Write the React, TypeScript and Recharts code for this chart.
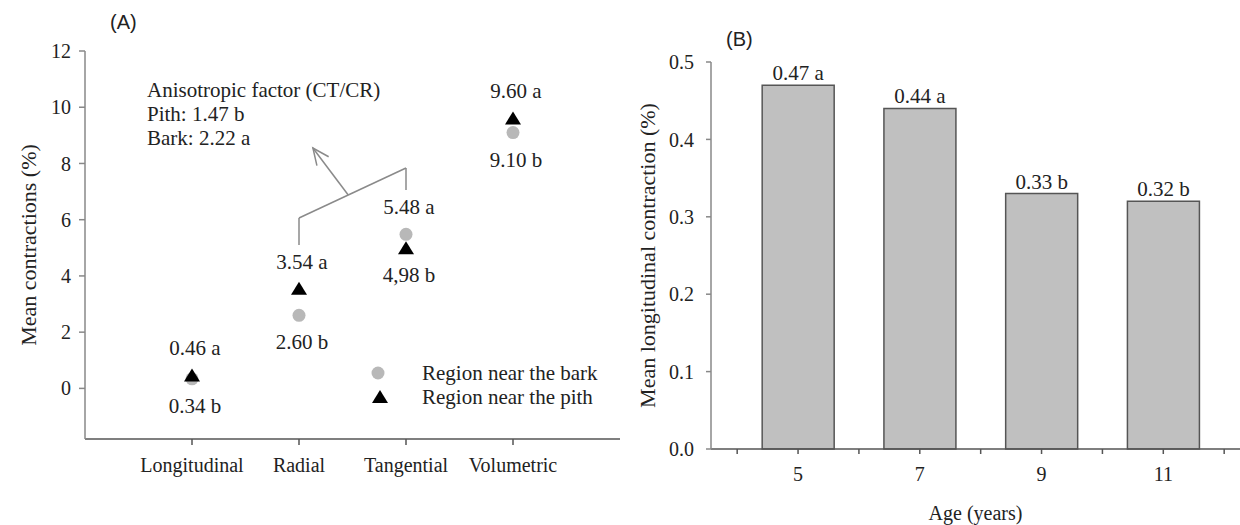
import React from "react";
import { Bar, BarChart, Label, LabelList, ReferenceLine, Scatter, ScatterChart, XAxis, YAxis } from "recharts";

const serif = "'Liberation Serif', 'Times New Roman', serif";
const sans = "'Liberation Sans', Arial, sans-serif";

// (A) mean contractions by direction
const directions = ["Longitudinal", "Radial", "Tangential", "Volumetric"];
const barkValues = [0.34, 2.6, 5.48, 9.1];
const pithValues = [0.46, 3.54, 4.98, 9.6];
const barkLabels = ["0.34 b", "2.60 b", "5.48 a", "9.10 b"];
const pithLabels = ["0.46 a", "3.54 a", "4,98 b", "9.60 a"];
const contractionTicks = [0, 2, 4, 6, 8, 10, 12];
const anisotropyText = ["Anisotropic factor (CT/CR)", "Pith: 1.47 b", "Bark: 2.22 a"];
const legendNames = ["Region near the bark", "Region near the pith"];

// (B) longitudinal contraction by age
const ages = [5, 7, 9, 11];
const longitudinal = [0.47, 0.44, 0.33, 0.32];
const ageLetters = ["a", "a", "b", "b"];
const longitudinalTicks = [0, 0.1, 0.2, 0.3, 0.4, 0.5];
const ageTicks = [4, 5, 6, 7, 8, 9, 10, 11, 12];

const barkData = directions.map((d, i) => ({
  x: i + 1,
  y: barkValues[i],
  label: barkLabels[i],
  above: barkValues[i] > pithValues[i]
}));
const pithData = directions.map((d, i) => ({
  x: i + 1,
  y: pithValues[i],
  label: pithLabels[i],
  above: pithValues[i] >= barkValues[i]
}));
const ageData = ages.map((a, i) => ({
  age: a,
  value: longitudinal[i],
  label: `${longitudinal[i].toFixed(2)} ${ageLetters[i]}`
}));

const textStyle = { fill: "#222", fontSize: 20, fontFamily: serif };

function pointLabel(cx: number, cy: number, payload: any) {
  return (
    <text
      x={cx + 3}
      y={cy + (payload.above ? -27 : 27)}
      textAnchor="middle"
      dominantBaseline="central"
      fill="#222"
      fontSize={21}
      fontFamily={serif}
    >
      {payload.label}
    </text>
  );
}

const BarkDot = (props: any) => {
  const { cx, cy, payload } = props;
  return (
    <g>
      <circle cx={cx} cy={cy} r={6.5} fill="#b8b8b8" />
      {pointLabel(cx, cy, payload)}
    </g>
  );
};

const PithTriangle = (props: any) => {
  const { cx, cy, payload } = props;
  return (
    <g>
      <path d={`M${cx},${cy - 7} L${cx + 8},${cy + 6} L${cx - 8},${cy + 6} Z`} fill="#000" />
      {pointLabel(cx, cy, payload)}
    </g>
  );
};

const ArrowLine = (props: any) => {
  const { x1, y1, x2, y2 } = props;
  const a = Math.atan2(y1 - y2, x1 - x2);
  const len = 18;
  const spread = 0.42;
  return (
    <g stroke="#8a8a8a" strokeWidth={1.5} fill="none">
      <line x1={x1} y1={y1} x2={x2} y2={y2} />
      <path
        d={`M${x2 + len * Math.cos(a - spread)},${y2 + len * Math.sin(a - spread)} L${x2},${y2} L${x2 + len * Math.cos(a + spread)},${y2 + len * Math.sin(a + spread)}`}
      />
    </g>
  );
};

const yTitle = (text: string, cx: number) => (props: any) => {
  const vb = props.viewBox;
  const cy = vb.y + vb.height / 2;
  return (
    <text
      x={cx}
      y={cy}
      transform={`rotate(-90, ${cx}, ${cy})`}
      textAnchor="middle"
      dominantBaseline="central"
      fill="#222"
      fontSize={22}
      fontFamily={serif}
    >
      {text}
    </text>
  );
};

function ContractionsChart() {
  return (
    <ScatterChart width={640} height={525} margin={{ top: 51, right: 20, bottom: 0, left: 0 }}>
      <XAxis
        type="number"
        dataKey="x"
        domain={[0, 5]}
        ticks={[1, 2, 3, 4]}
        tickFormatter={(v: number) => directions[v - 1]}
        height={86}
        tick={textStyle}
        tickSize={6}
        tickMargin={13}
        stroke="#555"
        strokeWidth={1.5}
      />
      <YAxis
        type="number"
        dataKey="y"
        domain={[-1.8, 12]}
        ticks={contractionTicks}
        width={85}
        tick={textStyle}
        tickSize={6}
        tickMargin={8}
        stroke="#888"
        strokeWidth={1.5}
        label={yTitle("Mean contractions (%)", 28)}
      />
      <ReferenceLine segment={[{ x: 2, y: 5.1 }, { x: 2, y: 6.06 }]} stroke="#8a8a8a" strokeWidth={1.5} />
      <ReferenceLine segment={[{ x: 2, y: 6.06 }, { x: 3, y: 7.84 }]} stroke="#8a8a8a" strokeWidth={1.5} />
      <ReferenceLine segment={[{ x: 3, y: 7.84 }, { x: 3, y: 7.06 }]} stroke="#8a8a8a" strokeWidth={1.5} />
      <ReferenceLine segment={[{ x: 2.46, y: 6.88 }, { x: 2.13, y: 8.55 }]} shape={ArrowLine} />
      <Scatter data={barkData} shape={BarkDot} isAnimationActive={false} />
      <Scatter data={pithData} shape={PithTriangle} isAnimationActive={false} />
    </ScatterChart>
  );
}

function AgeChart() {
  return (
    <BarChart width={620} height={525} data={ageData} margin={{ top: 62, right: 0, bottom: 0, left: 0 }}>
      <XAxis
        type="number"
        dataKey="age"
        domain={[3.57, 12.26]}
        ticks={ageTicks}
        tickFormatter={(v: number) => (v % 2 === 1 ? String(v) : "")}
        allowDataOverflow
        height={76}
        tick={textStyle}
        tickSize={5}
        tickMargin={13}
        stroke="#555"
        strokeWidth={1.5}
      >
        <Label value="Age (years)" position="insideBottom" offset={5} fill="#222" fontSize={20} fontFamily={serif} />
      </XAxis>
      <YAxis
        type="number"
        domain={[0, 0.5]}
        ticks={longitudinalTicks}
        tickFormatter={(v: number) => v.toFixed(1)}
        width={91}
        tick={textStyle}
        tickSize={5}
        tickMargin={12}
        stroke="#888"
        strokeWidth={1.5}
        label={yTitle("Mean longitudinal contraction (%)", 27)}
      />
      <Bar dataKey="value" fill="#c0c0c0" stroke="#555" strokeWidth={1.5} barSize={72} isAnimationActive={false}>
        <LabelList dataKey="label" position="top" offset={5} fill="#222" fontSize={21} fontFamily={serif} />
      </Bar>
    </BarChart>
  );
}

export default function App() {
  return (
    <div style={{ position: "absolute", left: 0, top: 0, width: 1240, height: 525, background: "#fff", overflow: "hidden" }}>
      <div style={{ position: "absolute", left: 0, top: 0 }}>
        <ContractionsChart />
      </div>
      <div style={{ position: "absolute", left: 620, top: 0 }}>
        <AgeChart />
      </div>
      <div style={{ position: "absolute", left: 110, top: 11, fontFamily: sans, fontSize: 20, color: "#222" }}>(A)</div>
      <div style={{ position: "absolute", left: 726, top: 28, fontFamily: sans, fontSize: 20, color: "#222" }}>(B)</div>
      <div style={{ position: "absolute", left: 147, top: 78, fontFamily: serif, fontSize: 21, lineHeight: "24px", color: "#222" }}>
        {anisotropyText.map((t) => (
          <div key={t}>{t}</div>
        ))}
      </div>
      <div style={{ position: "absolute", left: 368, top: 361, fontFamily: serif, fontSize: 21, lineHeight: "24px", color: "#222" }}>
        {legendNames.map((name, i) => (
          <div key={name} style={{ display: "flex", alignItems: "center" }}>
            <svg width={24} height={24} style={{ marginRight: 30 }}>
              {i === 0 ? <circle cx={10} cy={12} r={6.5} fill="#b8b8b8" /> : <path d="M12,5 L20,18 L4,18 Z" fill="#000" />}
            </svg>
            <span>{name}</span>
          </div>
        ))}
      </div>
    </div>
  );
}
